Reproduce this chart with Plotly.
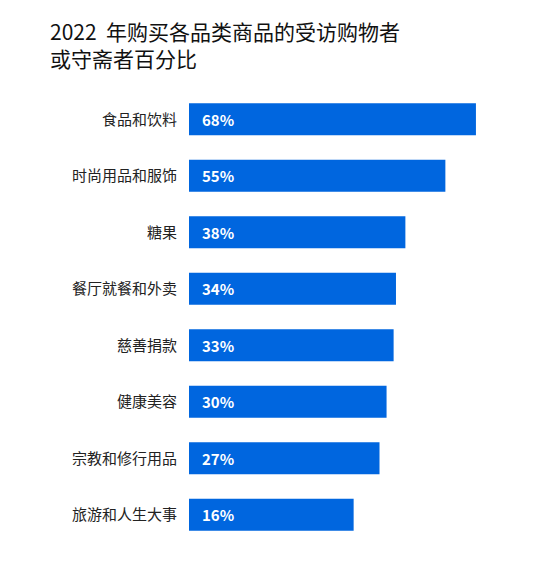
import plotly.graph_objects as go

categories = ["食品和饮料", "时尚用品和服饰", "糖果", "餐厅就餐和外卖", "慈善捐款", "健康美容", "宗教和修行用品", "旅游和人生大事"]
values = [68, 55, 38, 34, 33, 30, 27, 16]
labels = [f"{v}%" for v in values]

axis_start = -54
bar_color = "#0066DF"
font_family = "Noto Sans CJK SC, Noto Sans, sans-serif"

fig = go.Figure()
fig.add_trace(go.Bar(
    y=categories,
    x=[v - axis_start for v in values],
    base=axis_start,
    orientation="h",
    marker=dict(color=bar_color, line=dict(width=0)),
    hoverinfo="skip",
))

for c, t in zip(categories, labels):
    fig.add_annotation(x=axis_start, y=c, text=f"<b>{t}</b>", xanchor="left", xshift=11,
                       showarrow=False, font=dict(color="white", size=15, family=font_family))

fig.update_layout(
    width=552, height=574,
    margin=dict(l=189, r=32, t=91, b=31),
    plot_bgcolor="white", paper_bgcolor="white",
    bargap=0.434,
    showlegend=False,
    font=dict(family=font_family),
    title=dict(
        text="2022  年购买各品类商品的受访购物者<br>或守斋者百分比",
        x=50/552, xanchor="left", xref="container",
        y=1 - 40/574, yanchor="top", yref="container",
        font=dict(size=21, color="#111111", family=font_family),
    ),
    xaxis=dict(range=[axis_start, axis_start + (552 - 189 - 32) / 2.352], visible=False, fixedrange=True),
    yaxis=dict(autorange="reversed", showgrid=False, showline=False, zeroline=False, ticks="",
               ticklabelstandoff=11, fixedrange=True,
               tickfont=dict(size=15, color="#222222", family=font_family)),
)

fig.write_html("out.html", config={"displayModeBar": False, "staticPlot": True})
with open("out.html", encoding="utf-8") as f:
    html = f.read()
html = html.replace("<head>", "<head><style>html,body{margin:0;padding:0;}</style>", 1)
with open("out.html", "w", encoding="utf-8") as f:
    f.write(html)
